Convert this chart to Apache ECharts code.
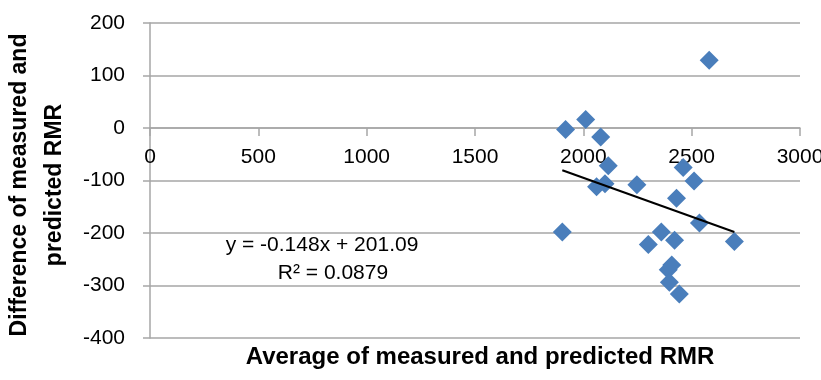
<!DOCTYPE html>
<html><head><meta charset="utf-8">
<script src="https://cdn.jsdelivr.net/npm/echarts@6/dist/echarts.min.js"></script>
<style>html,body{margin:0;padding:0;background:#fff}#c{width:821px;height:380px}</style>
</head><body><div id="c"></div>
<script>
const xVals = [2581, 1918, 2011, 2080, 2115, 2461, 2511, 2247, 2061, 2100, 2430, 1903, 2536, 2697, 2360, 2300, 2421, 2408, 2392, 2397, 2443];
const yVals = [129, -3, 16, -17, -72, -75, -101, -108, -112, -106, -134, -198, -181, -216, -198, -222, -214, -261, -270, -294, -316];
const xTicks = [0, 500, 1000, 1500, 2000, 2500, 3000];
const yTicks = [-400, -300, -200, -100, 0, 100, 200];
const slope = -0.148, intercept = 201.09;
const eqText = 'y = -0.148x + 201.09';
const r2Text = 'R² = 0.0879';
const xTitle = 'Average of measured and predicted RMR';
const yTitle = 'Difference of measured and\npredicted RMR';

const pts = xVals.map((x, i) => [x, yVals[i]]);
const xmin = Math.min(...xVals), xmax = Math.max(...xVals);
const trend = [[xmin, slope * xmin + intercept], [xmax, slope * xmax + intercept]];
const FONT = '"Liberation Sans", Arial, sans-serif';
const gray = '#a6a6a6';

const H = 380, gTop = 23, gBottom = 42;
const yMin = yTicks[0], yMax = yTicks[yTicks.length - 1];
const plotH = H - gTop - gBottom;
const zeroOffset = -plotH * (0 - yMin) / (yMax - yMin);

const chart = echarts.init(document.getElementById('c'), null, {renderer: 'canvas'});
chart.setOption({
  animation: false,
  grid: {left: 150, right: 21, top: gTop, bottom: gBottom, containLabel: false, outerBoundsMode: 'none'},
  xAxis: {
    type: 'value', min: xTicks[0], max: xTicks[xTicks.length - 1], interval: 500,
    position: 'bottom', offset: zeroOffset,
    axisLine: {show: true, onZero: false, lineStyle: {color: gray, width: 1.5}},
    axisTick: {show: true, length: 8, lineStyle: {color: gray, width: 1.5}},
    axisLabel: {color: '#000', fontSize: 21, fontFamily: FONT, margin: 19, formatter: v => String(v)},
    splitLine: {show: false}
  },
  yAxis: {
    type: 'value', min: yMin, max: yMax, interval: 100,
    axisLine: {show: true, onZero: false, lineStyle: {color: gray, width: 1.5}},
    axisTick: {show: true, length: 7, lineStyle: {color: gray, width: 1.5}},
    axisLabel: {color: '#000', fontSize: 21, fontFamily: FONT, margin: 25, formatter: v => String(v)},
    splitLine: {show: true, lineStyle: {color: gray, width: 1.5}}
  },
  series: [
    {type: 'scatter', data: pts, symbol: 'diamond', symbolSize: 19,
     itemStyle: {color: '#4a7ebb', opacity: 1}, z: 3},
    {type: 'line', data: trend, symbol: 'none', lineStyle: {color: '#000', width: 2}, z: 4}
  ],
  graphic: [
    {type: 'text', x: 480, y: 357,
     style: {text: xTitle, font: 'bold 24px ' + FONT, fill: '#000', textAlign: 'center', textVerticalAlign: 'middle'}},
    {type: 'text', x: 37, y: 185, rotation: Math.PI / 2,
     style: {text: yTitle, font: 'bold 23px ' + FONT, fill: '#000', textAlign: 'center', textVerticalAlign: 'middle', lineHeight: 35}},
    {type: 'text', x: 322, y: 245,
     style: {text: eqText, font: '21px ' + FONT, fill: '#000', textAlign: 'center', textVerticalAlign: 'middle'}},
    {type: 'text', x: 333, y: 273,
     style: {text: r2Text, font: '21px ' + FONT, fill: '#000', textAlign: 'center', textVerticalAlign: 'middle'}}
  ]
});
</script></body></html>
